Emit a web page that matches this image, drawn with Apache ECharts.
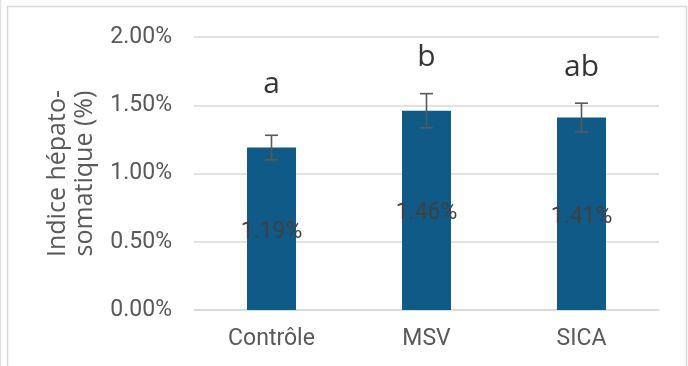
<!DOCTYPE html>
<html>
<head>
<meta charset="utf-8">
<script src="https://cdn.jsdelivr.net/npm/echarts@6/dist/echarts.min.js"></script>
<style>
html,body{margin:0;padding:0;background:#fff;}
#chart{width:688px;height:366px;}
</style>
</head>
<body>
<div id="chart"></div>
<script>
var categories = ['Contrôle', 'MSV', 'SICA'];
var values = [1.19, 1.46, 1.41];
var errors = [0.09, 0.125, 0.105];
var letters = ['a', 'b', 'ab'];
var letterPos = [1.65, 1.85, 1.775];
var yTicks = { min: 0, max: 2, interval: 0.5 };
var yTitle = 'Indice hépato-\nsomatique (%)';

var chart = echarts.init(document.getElementById('chart'), null, { renderer: 'canvas' });

var errData = values.map(function (v, i) { return [i, v - errors[i], v + errors[i]]; });
var letterData = letters.map(function (l, i) { return { value: [i, letterPos[i]], name: l }; });

var option = {
  backgroundColor: '#ffffff',
  animation: false,
  grid: { left: 194, right: 29, top: 37, bottom: 56, containLabel: false },
  graphic: [
    { type: 'rect', shape: { x: 7.5, y: 6.5, width: 679, height: 420 }, style: { fill: 'none', stroke: '#d9d9d9', lineWidth: 1.5 }, silent: true },
    { type: 'line', shape: { x1: 0.5, y1: 0, x2: 0.5, y2: 366 }, style: { stroke: '#e3e3e3', lineWidth: 1.5 }, silent: true }
  ],
  xAxis: {
    type: 'category',
    data: categories,
    axisLine: { show: true, lineStyle: { color: '#d9d9d9', width: 1.5 } },
    axisTick: { show: false },
    axisLabel: { color: '#595959', fontFamily: 'Roboto', fontSize: 23, margin: 18 }
  },
  yAxis: {
    type: 'value',
    min: yTicks.min, max: yTicks.max, interval: yTicks.interval,
    name: yTitle,
    nameLocation: 'middle',
    nameGap: 96,
    nameRotate: 90,
    nameTextStyle: { color: '#595959', fontFamily: 'Open Sans', fontSize: 25, lineHeight: 27 },
    axisLine: { show: false },
    axisTick: { show: false },
    splitLine: { lineStyle: { color: '#d9d9d9', width: 1.5 } },
    axisLabel: {
      color: '#595959', fontFamily: 'Roboto', fontSize: 23, margin: 22,
      formatter: function (v) { return v.toFixed(2) + '%'; }
    }
  },
  series: [
    {
      type: 'bar',
      data: values,
      barWidth: '31.6%',
      itemStyle: { color: '#0f5a86' },
      label: {
        show: true, position: 'inside', color: '#404040', offset: [0, 3],
        fontFamily: 'Roboto', fontSize: 23,
        formatter: function (p) { return p.value.toFixed(2) + '%'; }
      },
      z: 2
    },
    {
      type: 'custom',
      data: errData,
      z: 5,
      renderItem: function (params, api) {
        var x = api.value(0);
        var lo = api.coord([x, api.value(1)]);
        var hi = api.coord([x, api.value(2)]);
        var w = 6.5;
        var st = { stroke: '#595959', lineWidth: 1.6 };
        return {
          type: 'group',
          children: [
            { type: 'line', shape: { x1: lo[0], y1: lo[1], x2: hi[0], y2: hi[1] }, style: st },
            { type: 'line', shape: { x1: lo[0] - w, y1: lo[1], x2: lo[0] + w, y2: lo[1] }, style: st },
            { type: 'line', shape: { x1: hi[0] - w, y1: hi[1], x2: hi[0] + w, y2: hi[1] }, style: st }
          ]
        };
      }
    },
    {
      type: 'scatter',
      data: letterData,
      symbolSize: 2,
      itemStyle: { color: 'rgba(0,0,0,0)' },
      label: {
        show: true, position: 'inside', color: '#000000',
        fontFamily: 'Open Sans', fontSize: 30,
        formatter: function (p) { return p.name; }
      },
      z: 6
    }
  ]
};
chart.setOption(option);
</script>
</body>
</html>
